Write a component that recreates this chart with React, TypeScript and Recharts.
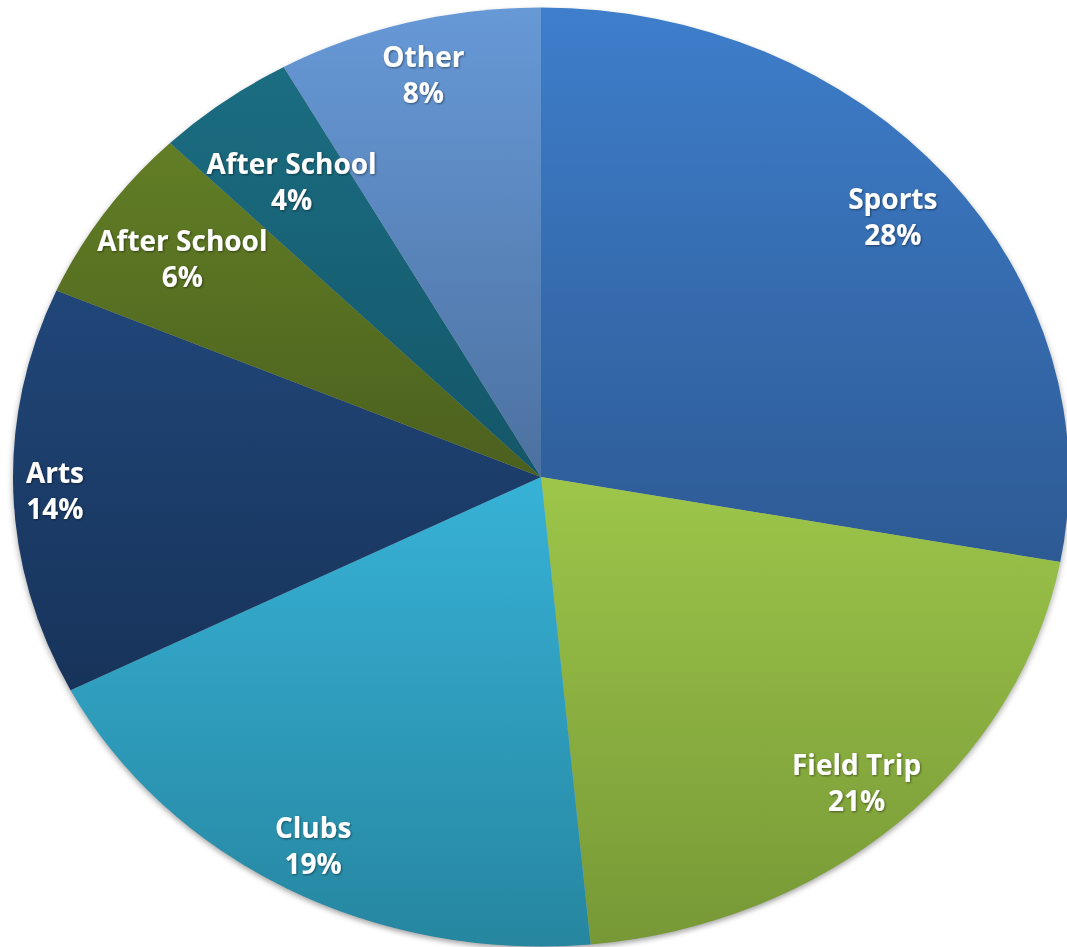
import React from 'react';
import { PieChart, Pie, Cell } from 'recharts';

const categories = ['Sports', 'Field Trip', 'Clubs', 'Arts', 'After School', 'After School', 'Other'];
// slice shares read from the slice boundaries (labels show them rounded)
const values = [27.9, 20.6, 19.0, 14.0, 6.1, 4.3, 8.1];
const topColors = ['#3e7ecb', '#9dc64a', '#37b2d7', '#204678', '#627e25', '#1b6d82', '#6799d7'];
const bottomColors = ['#2d5a94', '#779836', '#2686a0', '#17335a', '#4b601e', '#145668', '#4c71a0'];
// label distance from centre, as a fraction of the radius (layout style)
const labelRadius = [0.867, 0.885, 0.896, 0.921, 0.823, 0.787, 0.885];

const data = categories.map((name, i) => ({ name, value: values[i] }));

const SCALE_Y = 469.5 / 528;
const W = 1067;
const H = 947;
const RAD = Math.PI / 180;

const renderLabel = (props: any) => {
  const { cx, cy, midAngle, outerRadius, index } = props;
  const r = outerRadius * labelRadius[index];
  const x = cx + r * Math.cos(-midAngle * RAD);
  const y = cy + r * Math.sin(-midAngle * RAD);
  return (
    <g transform={`translate(${x},${y}) scale(1,${1 / SCALE_Y})`}>
      <text
        textAnchor="middle"
        fill="#ffffff"
        fontFamily="'Open Sans', sans-serif"
        fontWeight={700}
        fontSize={28}
        filter="url(#txtShadow)"
      >
        <tspan x={0} dy={-8}>{categories[index]}</tspan>
        <tspan x={0} dy={36}>{Math.round(values[index])}%</tspan>
      </text>
    </g>
  );
};

export default function App() {
  return (
    <div style={{ position: 'absolute', left: 0, top: 0, width: W, height: H, overflow: 'hidden', background: '#fff' }}>
      <div
        style={{
          transform: `scaleY(${SCALE_Y})`,
          transformOrigin: '0 0',
          width: W,
          height: H / SCALE_Y,
          filter: 'drop-shadow(0px 3px 3px rgba(0,0,0,0.35))',
        }}
      >
        <PieChart width={W} height={H / SCALE_Y} margin={{ top: 0, right: 0, bottom: 0, left: 0 }}>
          <defs>
            {topColors.map((c, i) => (
              <linearGradient key={i} id={`grad${i}`} x1="0" y1="0" x2="0" y2="1">
                <stop offset="0%" stopColor={c} />
                <stop offset="100%" stopColor={bottomColors[i]} />
              </linearGradient>
            ))}
            <filter id="txtShadow" x="-20%" y="-20%" width="140%" height="140%">
              <feDropShadow dx="1" dy="1" stdDeviation="1" floodColor="#000" floodOpacity="0.45" />
            </filter>
          </defs>
          <Pie
            data={data}
            dataKey="value"
            nameKey="name"
            cx={541}
            cy={477 / SCALE_Y}
            outerRadius={528}
            startAngle={90}
            endAngle={-270}
            stroke="none"
            label={renderLabel}
            labelLine={false}
            isAnimationActive={false}
          >
            {data.map((d, i) => (
              <Cell key={i} fill={`url(#grad${i})`} />
            ))}
          </Pie>
        </PieChart>
      </div>
    </div>
  );
}
